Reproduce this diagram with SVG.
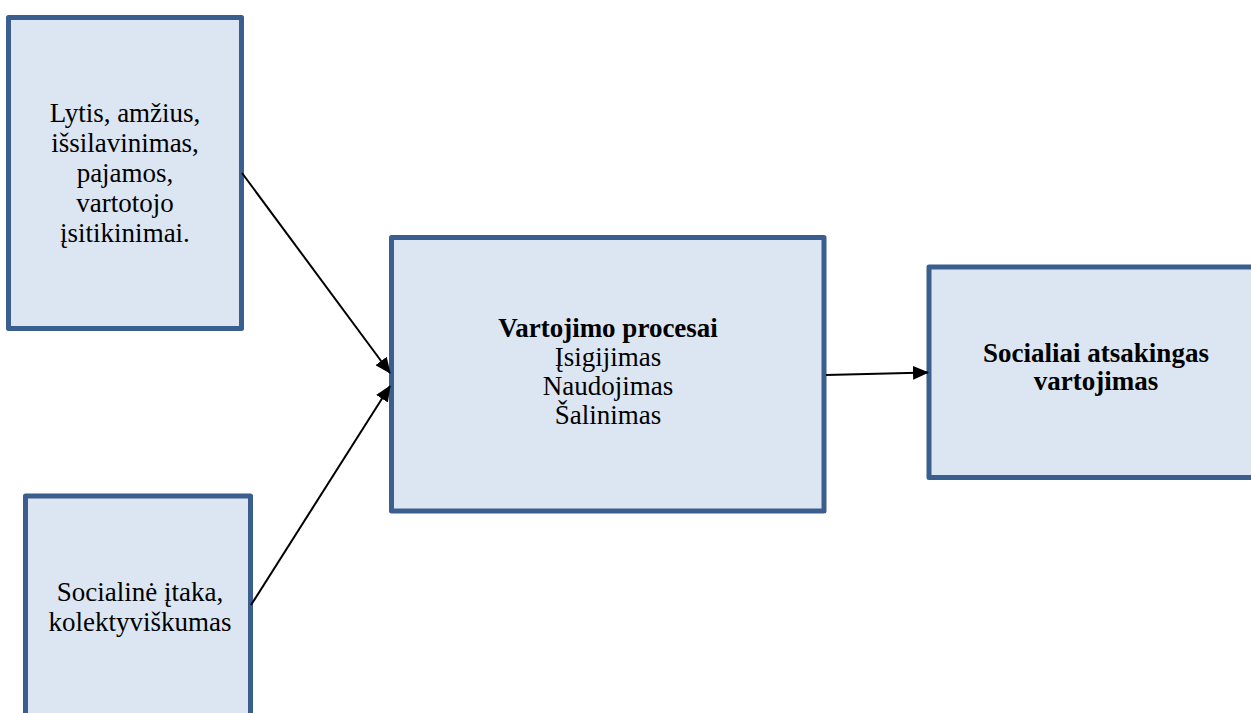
<svg xmlns="http://www.w3.org/2000/svg" width="1251" height="713" viewBox="0 0 1251 713">
<style>
.box{fill:#DCE6F2;stroke:#3A5F8E;stroke-width:5;stroke-linejoin:round}
.t{font-family:'Liberation Serif','Tinos','Times New Roman','DejaVu Serif',serif;font-size:27px;fill:#000;text-anchor:middle}
.b{font-weight:bold}
.c{stroke:#000;stroke-width:2;fill:none}
</style>
<defs>
<marker id="ah" markerUnits="userSpaceOnUse" markerWidth="16" markerHeight="14" refX="15" refY="7" orient="auto">
<path d="M0,0 L16,7 L0,14 Z" fill="#000"/>
</marker>
</defs>
<rect width="1251" height="713" fill="#fff"/>
<g id="n1" font-family="Liberation Serif, DejaVu Serif, serif">
<rect class="box" x="8.5" y="17.5" width="233" height="311"/>
<text class="t" x="125" y="122">Lytis, amžius,</text>
<text class="t" x="125" y="152">išsilavinimas,</text>
<text class="t" x="125" y="182">pajamos,</text>
<text class="t" x="125" y="212">vartotojo</text>
<text class="t" x="125" y="242">įsitikinimai.</text>
</g>
<g id="n2" font-family="Liberation Serif, DejaVu Serif, serif">
<rect class="box" x="25.5" y="496" width="225" height="240"/>
<text class="t" x="140" y="601">Socialinė įtaka,</text>
<text class="t" x="140" y="631">kolektyviškumas</text>
</g>
<g id="n3" font-family="Liberation Serif, DejaVu Serif, serif">
<rect class="box" x="391.5" y="237.5" width="432.5" height="273.5"/>
<text class="t b" x="608" y="337">Vartojimo procesai</text>
<text class="t" x="608" y="366">Įsigijimas</text>
<text class="t" x="608" y="395">Naudojimas</text>
<text class="t" x="608" y="424">Šalinimas</text>
</g>
<g id="n4" font-family="Liberation Serif, DejaVu Serif, serif">
<rect class="box" x="929" y="267" width="340" height="210.5"/>
<text class="t b" x="1096" y="362">Socialiai atsakingas</text>
<text class="t b" x="1096" y="390">vartojimas</text>
</g>
<g id="connectors">
<line class="c" x1="242" y1="173" x2="390" y2="373" marker-end="url(#ah)"/>
<line class="c" x1="251" y1="605" x2="390" y2="386" marker-end="url(#ah)"/>
<line class="c" x1="826" y1="375" x2="928" y2="372.5" marker-end="url(#ah)"/>
</g>
</svg>
